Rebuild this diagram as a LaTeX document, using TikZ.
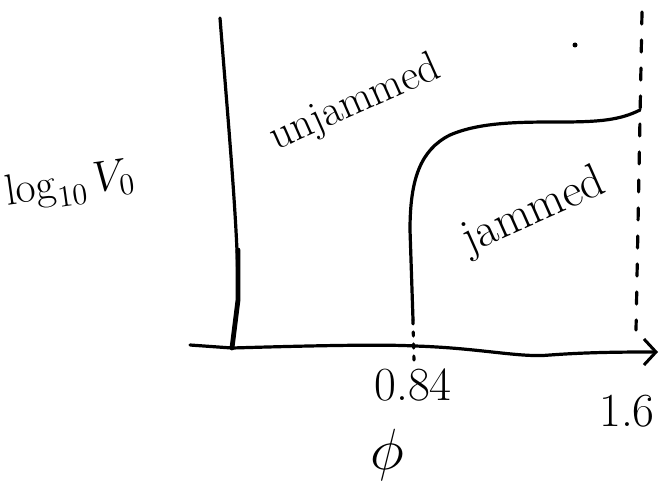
\documentclass[tikz,border=0pt]{standalone}
\usetikzlibrary{arrows.meta}
\begin{document}
\begin{tikzpicture}[x=1pt,y=-1pt,
  ink/.style={line width=3.2pt,line cap=round,line join=round},
  lbl/.style={inner sep=0pt}]
\useasboundingbox (0,0) rectangle (660,487);
% nodes
\coordinate (wallTop) at (220,18);
\coordinate (wallBot) at (232,348);
\coordinate (axL) at (190,345);
\coordinate (axR) at (658,352);
\coordinate (jBot) at (413,320);
\coordinate (jEnd) at (640,110);
\coordinate (dTop) at (642,12);
\coordinate (dBot) at (636,330);
\coordinate (tickTop) at (413,320);
\coordinate (tickBot) at (414,362);
% wall (unjammed boundary)
\draw[ink] (wallTop) .. controls (228,120) and (238,230) .. (238,290);
\draw[line width=4.8pt,line cap=round,line join=round] (238,250) -- (238,300) -- (wallBot);
% x axis
\draw[ink,-{Straight Barb[length=12pt,width=26pt,line width=3pt]}] (axL) -- (wallBot) .. controls (300,346) and (380,344) .. (415,346) .. controls (480,348) and (520,358) .. (550,355) .. controls (590,352) and (630,352) .. (axR);
% jammed boundary
\draw[ink] (jBot) -- (410,230) .. controls (410,180) and (420,150) .. (450,135) .. controls (480,122) and (520,122) .. (560,122) .. controls (600,122) and (620,120) .. (jEnd);
% dotted tick at 0.84
\draw[ink,dash pattern=on 4pt off 8pt] (tickTop) -- (tickBot);
% dashed line at 1.6
\draw[ink,dash pattern=on 12pt off 16pt] (dTop) -- (dBot);
\fill (575,45) circle (2.5pt);
% labels
\node[lbl,rotate=24] (unj) at (355,104) {\scalebox{2.5}{\fontsize{17.28}{20}\selectfont unjammed}};
\node[lbl,rotate=24] (jam) at (534,212) {\scalebox{2.75}{\fontsize{17.28}{20}\selectfont jammed}};
\node[lbl,rotate=8] (ylab) at (70,186) {\scalebox{2.1}{\fontsize{20}{22}\selectfont $\log_{10} V_0$}};
\node[lbl] (t1) at (413,385) {\scalebox{2.75}{\fontsize{17.28}{20}\selectfont 0.84}};
\node[lbl] (t2) at (627,411) {\scalebox{2.75}{\fontsize{17.28}{20}\selectfont 1.6}};
\node[lbl] (xlab) at (387,455) {\scalebox{2.8}{\fontsize{20}{22}\selectfont $\phi$}};
\end{tikzpicture}
\end{document}
